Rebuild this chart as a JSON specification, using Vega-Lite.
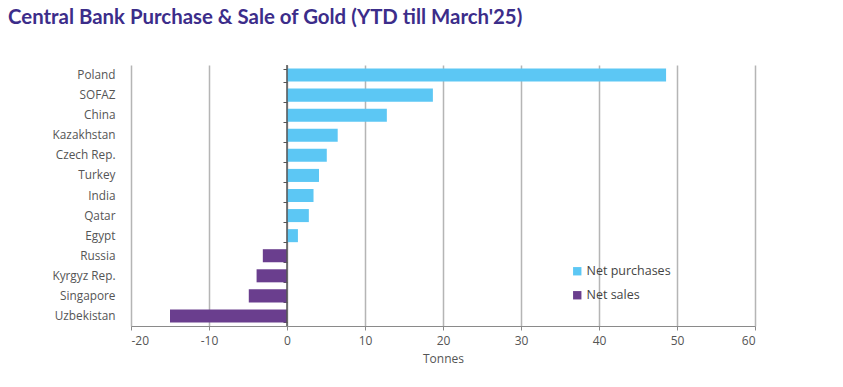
{
  "$schema": "https://vega.github.io/schema/vega-lite/v6.json",
  "width": 624,
  "height": 261,
  "autosize": {"type": "none"},
  "padding": {"left": 131, "top": 65, "right": 88, "bottom": 61},
  "background": "white",
  "title": {
    "text": "Central Bank Purchase & Sale of Gold (YTD till March'25)",
    "anchor": "start",
    "frame": "group",
    "dx": -123,
    "offset": 36,
    "font": "Lato",
    "fontSize": 20.4,
    "fontWeight": "bold",
    "color": "#3c2d8a"
  },
  "data": {
    "values": [
      {"country": "Poland", "tonnes": 48.6, "type": "Net purchases"},
      {"country": "SOFAZ", "tonnes": 18.7, "type": "Net purchases"},
      {"country": "China", "tonnes": 12.8, "type": "Net purchases"},
      {"country": "Kazakhstan", "tonnes": 6.5, "type": "Net purchases"},
      {"country": "Czech Rep.", "tonnes": 5.1, "type": "Net purchases"},
      {"country": "Turkey", "tonnes": 4.1, "type": "Net purchases"},
      {"country": "India", "tonnes": 3.4, "type": "Net purchases"},
      {"country": "Qatar", "tonnes": 2.8, "type": "Net purchases"},
      {"country": "Egypt", "tonnes": 1.4, "type": "Net purchases"},
      {"country": "Russia", "tonnes": -3.1, "type": "Net sales"},
      {"country": "Kyrgyz Rep.", "tonnes": -3.9, "type": "Net sales"},
      {"country": "Singapore", "tonnes": -4.9, "type": "Net sales"},
      {"country": "Uzbekistan", "tonnes": -15.0, "type": "Net sales"}
    ]
  },
  "config": {
    "view": {"stroke": null},
    "axis": {
      "labelFont": "Open Sans",
      "titleFont": "Open Sans",
      "labelColor": "#555555",
      "titleColor": "#555555",
      "labelFontSize": 12,
      "titleFontSize": 12,
      "titleFontWeight": "normal"
    },
    "legend": {
      "labelFont": "Open Sans",
      "labelFontSize": 12.5,
      "labelColor": "#444444"
    }
  },
  "layer": [
    {
      "mark": {"type": "bar"},
      "encoding": {
        "y": {
          "field": "country",
          "type": "nominal",
          "sort": null,
          "scale": {"paddingInner": 0.35, "paddingOuter": 0.175},
          "axis": {
            "title": null,
            "domain": false,
            "ticks": false,
            "grid": false,
            "labelPadding": 16,
            "labelFontSize": 11.8,
            "orient": "left"
          }
        },
        "x": {
          "field": "tonnes",
          "type": "quantitative",
          "scale": {"domain": [-20, 60], "nice": false, "zero": false},
          "axis": {
            "title": "Tonnes",
            "values": [-20, -10, 0, 10, 20, 30, 40, 50, 60],
            "labelExpr": "toString(datum.value)",
            "grid": true,
            "gridColor": "#b5b5b5",
            "gridWidth": 1.5,
            "domainColor": "#8a8a8a",
            "domainWidth": 1.2,
            "tickColor": "#8a8a8a",
            "tickSize": 4,
            "labelPadding": 5,
            "titlePadding": 7
          }
        },
        "color": {
          "field": "type",
          "type": "nominal",
          "scale": {"domain": ["Net purchases", "Net sales"], "range": ["#5cc7f4", "#6a3e8e"]},
          "legend": {
            "title": null,
            "orient": "none",
            "legendX": 440,
            "legendY": 200,
            "symbolType": "square",
            "symbolSize": 70,
            "symbolStrokeWidth": 0,
            "rowPadding": 11,
            "labelOffset": 3
          }
        }
      }
    },
    {
      "mark": {"type": "rule", "color": "#555555", "strokeWidth": 1.5},
      "data": {"values": [{"zero": 0}]},
      "encoding": {
        "x": {"field": "zero", "type": "quantitative"}
      }
    },
    {
      "mark": {"type": "bar", "opacity": 0},
      "encoding": {
        "y": {
          "field": "country",
          "type": "nominal",
          "sort": null,
          "axis": {
            "orient": "left",
            "offset": -156,
            "labels": false,
            "domain": false,
            "grid": false,
            "ticks": true,
            "tickBand": "extent",
            "tickSize": 4,
            "tickColor": "#555555",
            "title": null
          }
        },
        "x": {"field": "tonnes", "type": "quantitative"}
      }
    }
  ],
  "resolve": {"axis": {"y": "independent"}}
}
